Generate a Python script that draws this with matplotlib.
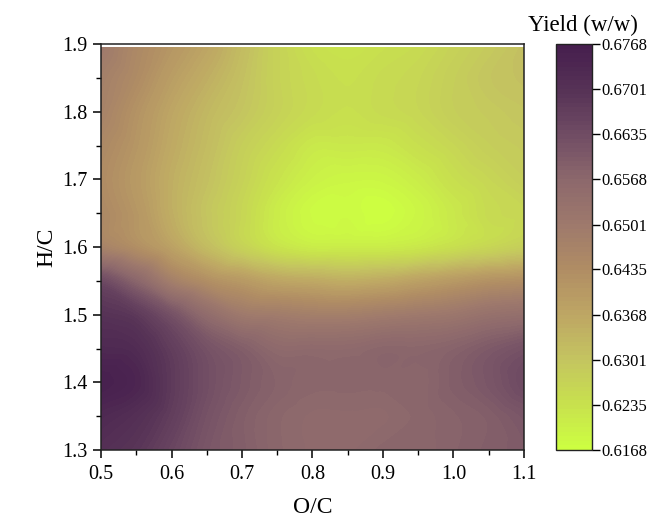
import numpy as np
import matplotlib
matplotlib.use("Agg")
import matplotlib.pyplot as plt
import matplotlib.tri as mtri
from matplotlib.colors import LinearSegmentedColormap
from matplotlib.ticker import MultipleLocator, FormatStrFormatter

plt.rcParams['font.family'] = ['Liberation Serif', 'DejaVu Serif']

# O/C grid (x) and H/C grid (y)
oc = [0.5, 0.55, 0.6, 0.65, 0.7, 0.75, 0.8, 0.85, 0.9, 0.95, 1.0, 1.05, 1.1]
hc = [1.3, 1.35, 1.4, 1.45, 1.5, 1.55, 1.6, 1.65, 1.7, 1.75, 1.8, 1.85, 1.895]

# Yield (w/w), rows follow hc, columns follow oc
y130 = [0.671, 0.669, 0.665, 0.661, 0.659, 0.657, 0.656, 0.656, 0.657, 0.657, 0.658, 0.659, 0.660]
y135 = [0.673, 0.671, 0.667, 0.662, 0.659, 0.657, 0.656, 0.656, 0.656, 0.657, 0.658, 0.659, 0.661]
y140 = [0.676, 0.674, 0.668, 0.663, 0.660, 0.658, 0.657, 0.657, 0.657, 0.657, 0.659, 0.661, 0.664]
y145 = [0.673, 0.672, 0.667, 0.662, 0.659, 0.656, 0.656, 0.656, 0.657, 0.657, 0.658, 0.660, 0.662]
y150 = [0.670, 0.668, 0.662, 0.655, 0.650, 0.649, 0.648, 0.648, 0.649, 0.650, 0.651, 0.653, 0.654]
y155 = [0.664, 0.657, 0.648, 0.643, 0.640, 0.637, 0.636, 0.635, 0.636, 0.638, 0.640, 0.642, 0.643]
y160 = [0.647, 0.643, 0.638, 0.632, 0.627, 0.623, 0.621, 0.621, 0.621, 0.622, 0.624, 0.626, 0.628]
y165 = [0.645, 0.641, 0.635, 0.630, 0.626, 0.621, 0.618, 0.618, 0.617, 0.619, 0.622, 0.625, 0.626]
y170 = [0.644, 0.640, 0.635, 0.631, 0.627, 0.623, 0.620, 0.619, 0.619, 0.621, 0.624, 0.626, 0.628]
y175 = [0.645, 0.641, 0.636, 0.632, 0.628, 0.625, 0.622, 0.622, 0.622, 0.624, 0.626, 0.628, 0.629]
y180 = [0.647, 0.642, 0.637, 0.633, 0.630, 0.627, 0.625, 0.624, 0.625, 0.626, 0.628, 0.629, 0.630]
y185 = [0.648, 0.644, 0.639, 0.635, 0.631, 0.627, 0.625, 0.624, 0.625, 0.626, 0.628, 0.630, 0.631]
y190 = [0.650, 0.645, 0.641, 0.637, 0.632, 0.627, 0.624, 0.623, 0.624, 0.625, 0.627, 0.629, 0.631]

cbar_ticks = [0.6168, 0.6235, 0.6301, 0.6368, 0.6435, 0.6501, 0.6568, 0.6635, 0.6701, 0.6768]
vmin, vmax = 0.6168, 0.6768

Z = np.array([y130, y135, y140, y145, y150, y155, y160, y165, y170, y175, y180, y185, y190])
X, Y = np.meshgrid(oc, hc)

cmap = LinearSegmentedColormap.from_list("yield", [
    (0.000, (205/255, 255/255, 65/255)),
    (0.111, (200/255, 225/255, 78/255)),
    (0.222, (196/255, 196/255, 96/255)),
    (0.333, (190/255, 166/255, 100/255)),
    (0.444, (176/255, 141/255, 100/255)),
    (0.556, (158/255, 121/255, 108/255)),
    (0.667, (140/255, 104/255, 108/255)),
    (0.778, (112/255, 76/255, 100/255)),
    (0.889, (86/255, 50/255, 86/255)),
    (1.000, (70/255, 30/255, 78/255)),
])

fig = plt.figure(figsize=(6.47, 5.17), dpi=100)
ax = fig.add_axes([101/647, 67/517, 423/647, 406/517])
cax = fig.add_axes([556/647, 67/517, 36/647, 406/517])

tri = mtri.Triangulation(X.ravel(), Y.ravel())
interp = mtri.CubicTriInterpolator(tri, Z.ravel(), kind='geom')
refiner = mtri.UniformTriRefiner(tri)
tri_f, z_f = refiner.refine_field(Z.ravel(), triinterpolator=interp, subdiv=4)
z_f = np.clip(z_f, vmin, vmax)

levels = np.linspace(vmin, vmax, 91)
cs = ax.tricontourf(tri_f, z_f, levels=levels, cmap=cmap, vmin=vmin, vmax=vmax)

ax.set_xlim(0.5, 1.1)
ax.set_ylim(1.3, 1.9)
ax.xaxis.set_major_locator(MultipleLocator(0.1))
ax.xaxis.set_minor_locator(MultipleLocator(0.05))
ax.yaxis.set_major_locator(MultipleLocator(0.1))
ax.yaxis.set_minor_locator(MultipleLocator(0.05))
ax.xaxis.set_major_formatter(FormatStrFormatter('%.1f'))
ax.yaxis.set_major_formatter(FormatStrFormatter('%.1f'))
ax.tick_params(which='major', direction='out', length=6, width=1.1, labelsize=14.5, colors='black')
ax.tick_params(axis='x', which='major', pad=5)
ax.tick_params(which='minor', direction='out', length=3.5, width=1.0)
ax.tick_params(top=False, right=False)
for s in ax.spines.values():
    s.set_linewidth(1.1)
    s.set_color('#222222')
ax.set_xlabel('O/C', fontsize=17, labelpad=9.5)
ax.set_ylabel('H/C', fontsize=17, labelpad=4)

cb = fig.colorbar(cs, cax=cax, ticks=cbar_ticks)
cb.ax.set_yticklabels([f'{t:.4f}' for t in cbar_ticks])
cb.ax.tick_params(direction='out', length=6, width=1.0, labelsize=12, pad=0.5)
cb.outline.set_linewidth(1.0)
cb.outline.set_edgecolor('#222222')
cb.ax.minorticks_off()

fig.text(583/647, (517-25)/517, 'Yield (w/w)', fontsize=16.5, ha='center', va='center')

fig.savefig('out.png', dpi=100)
